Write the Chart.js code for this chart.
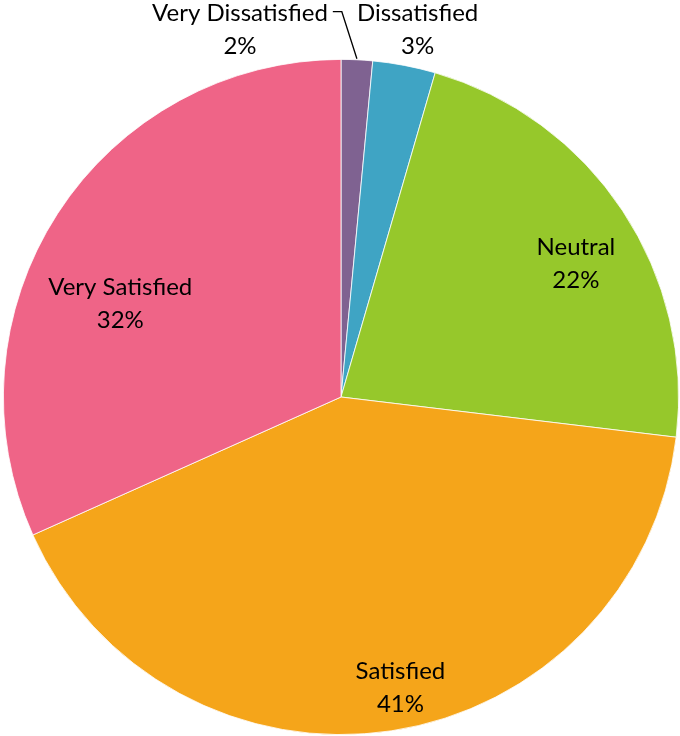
<!DOCTYPE html>
<html>
<head>
<meta charset="utf-8">
<script src="https://cdn.jsdelivr.net/npm/chart.js@4/dist/chart.umd.min.js"></script>
<style>
  html, body { margin: 0; padding: 0; background: #fff; }
  #wrap { width: 680px; height: 736px; position: relative; }
</style>
</head>
<body>
<div id="wrap"><canvas id="c" width="680" height="736"></canvas></div>
<script>
const categories = ["Very Dissatisfied", "Dissatisfied", "Neutral", "Satisfied", "Very Satisfied"];
const shares = [1.5, 3.0, 22.4, 41.4, 31.7];
const colors = ["#7F6291", "#3FA4C4", "#96C82B", "#F5A51A", "#EF6487"];

// label placement: radial fraction of radius, angular offset (deg) from slice middle
const labelPlace = [
  { frac: 1.127, off: -18.1, leader: true },
  { frac: 1.11, off: 1.0 },
  { frac: 0.80, off: 3.9 },
  { frac: 0.88, off: -2.9 },
  { frac: 0.71, off: -10.0 }
];

const FONT = '24px "Lato", "Open Sans", sans-serif';
const LINE = 33;

const labelPlugin = {
  id: 'sliceLabels',
  afterDatasetsDraw(chart) {
    const ctx = chart.ctx;
    const meta = chart.getDatasetMeta(0);
    const total = shares.reduce((a, b) => a + b, 0);
    ctx.save();
    ctx.font = FONT;
    ctx.fillStyle = '#000';
    ctx.textAlign = 'center';
    ctx.textBaseline = 'middle';
    meta.data.forEach((arc, i) => {
      const p = arc.getProps(['x', 'y', 'startAngle', 'endAngle', 'outerRadius'], true);
      const mid = (p.startAngle + p.endAngle) / 2;
      const pl = labelPlace[i];
      const a = mid + pl.off * Math.PI / 180;
      const cx = p.x + Math.cos(a) * p.outerRadius * pl.frac;
      const cy = p.y + Math.sin(a) * p.outerRadius * pl.frac;
      const pct = Math.round(shares[i] / total * 100) + '%';
      const y1 = cy - LINE / 2, y2 = cy + LINE / 2;
      ctx.fillText(categories[i], cx, y1);
      ctx.fillText(pct, cx, y2);
      if (pl.leader) {
        const w = ctx.measureText(categories[i]).width;
        const sx = cx + w / 2 + 5;
        const ex = p.x + Math.cos(mid) * p.outerRadius;
        const ey = p.y + Math.sin(mid) * p.outerRadius;
        ctx.beginPath();
        ctx.strokeStyle = '#000';
        ctx.lineWidth = 1.3;
        ctx.moveTo(sx, y1 - 2);
        ctx.lineTo(sx + 9, y1 - 2);
        ctx.lineTo(ex, ey - 1);
        ctx.stroke();
      }
    });
    ctx.restore();
  }
};

new Chart(document.getElementById('c'), {
  type: 'pie',
  data: {
    labels: categories,
    datasets: [{
      data: shares,
      backgroundColor: colors,
      borderColor: '#ffffff',
      borderWidth: 0.8
    }]
  },
  options: {
    responsive: false,
    animation: false,
    layout: { padding: { left: 3, right: 1, top: 59, bottom: 1 } },
    plugins: {
      legend: { display: false },
      tooltip: { enabled: false }
    }
  },
  plugins: [labelPlugin]
});
</script>
</body>
</html>
